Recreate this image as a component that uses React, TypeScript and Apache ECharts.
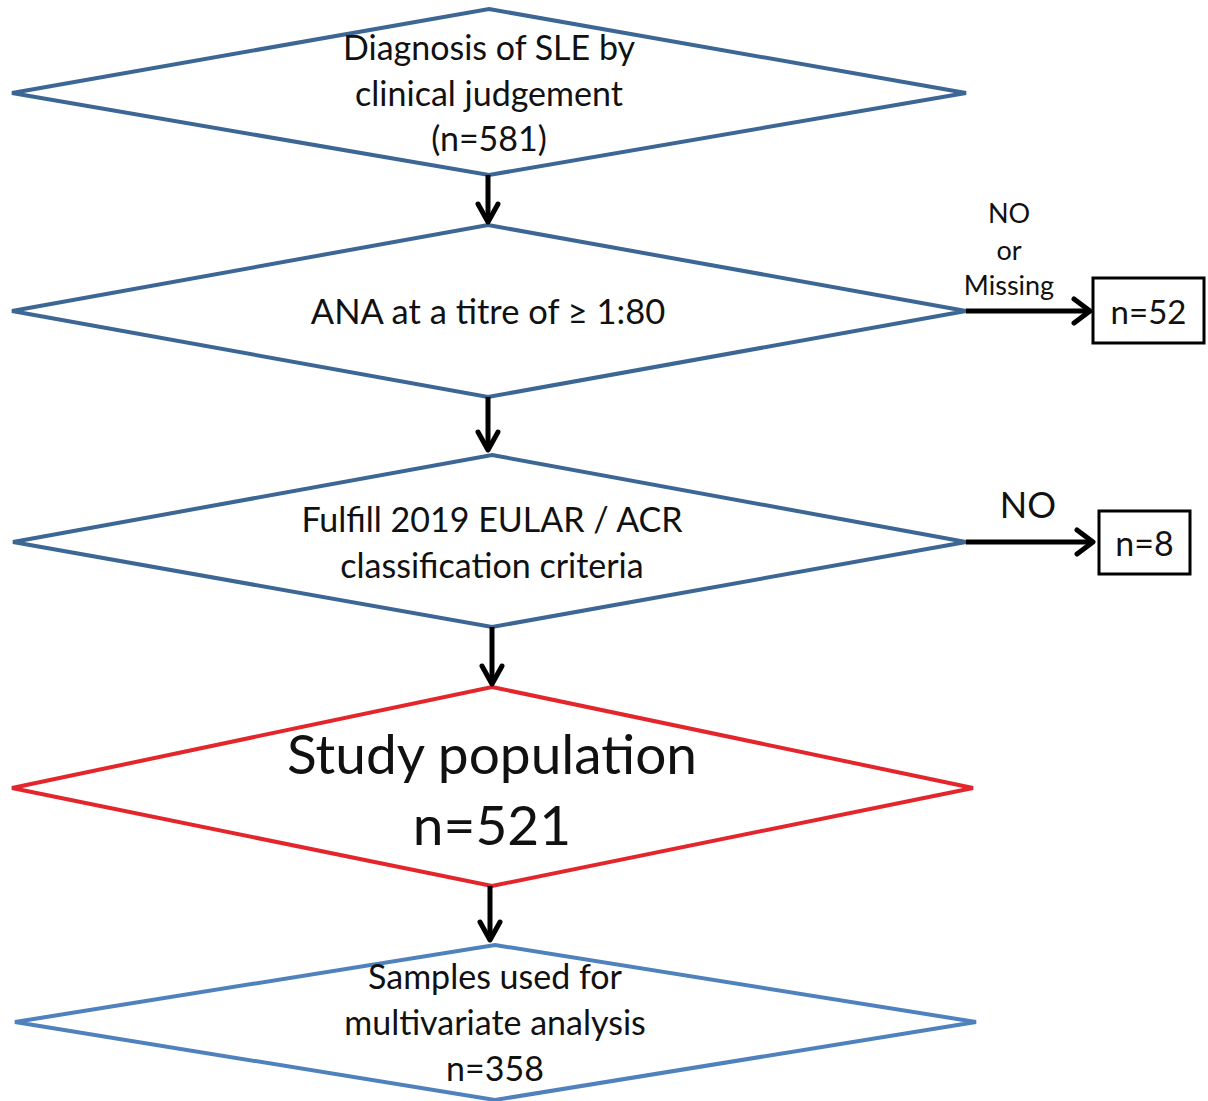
import React, { useEffect, useRef } from "react";
import * as echarts from "echarts";

// ---- content ----
const stepLabels: string[][] = [
  ["Diagnosis of SLE by", "clinical judgement", "(n=581)"],
  ["ANA at a titre of ≥ 1:80"],
  ["Fulfill 2019 EULAR / ACR", "classification criteria"],
  ["Study population", "n=521"],
  ["Samples used for", "multivariate analysis", "n=358"],
];
const excludedCounts = ["n=52", "n=8"];
const exclusionReasons: string[][] = [["NO", "or", "Missing"], ["NO"]];

// ---- layout ----
// diamond: [topX, topY, bottomY, leftX, rightX, midY]
const diamondGeom = [
  [489, 9, 175, 12, 966, 93],
  [488, 225, 397, 12, 966, 311],
  [492, 455, 627, 13, 966, 542],
  [492, 687, 886, 12, 973, 788],
  [495, 945, 1100, 15, 976, 1022],
];
const diamondColors = ["#3c6794", "#3c6794", "#3c6794", "#e3262b", "#4f81bd"];
const textLineY = [
  [46, 92, 137],
  [310],
  [518, 564],
  [753, 824],
  [975, 1021, 1067],
];
const textFont = [34, 34.5, 34, 55, 34];
// vertical arrows: [x, y1, y2]
const downArrows = [
  [488, 175, 225],
  [488, 397, 453],
  [492, 627, 687],
  [490, 886, 943],
];
// side arrows: [y, x1, x2]
const sideArrows = [
  [311, 966, 1093],
  [542, 966, 1096],
];
// boxes: [x, y, w, h]
const boxGeom = [
  [1093, 278, 111, 65],
  [1099, 511, 91, 63],
];
const boxFont = [33, 34];
const reasonPos = [
  { x: 1009, ys: [212, 249, 284], size: 27 },
  { x: 1028, ys: [504], size: 36 },
];

const FONT = "Lato, 'Open Sans', sans-serif";

function buildGraphics() {
  const els: any[] = [];
  diamondGeom.forEach((g, i) => {
    const [tx, ty, by, lx, rx, my] = g;
    els.push({
      type: "polygon",
      shape: { points: [[tx, ty], [rx, my], [tx, by], [lx, my]] },
      style: { fill: "#fff", stroke: diamondColors[i], lineWidth: 4, lineJoin: "miter" },
    });
    stepLabels[i].forEach((t, j) => {
      els.push({
        type: "text",
        x: tx,
        y: textLineY[i][j],
        style: {
          text: t,
          fill: "#111",
          font: `${textFont[i]}px ${FONT}`,
          align: "center",
          verticalAlign: "middle",
        },
      });
    });
  });
  downArrows.forEach(([x, y1, y2]) => {
    els.push({ type: "line", shape: { x1: x, y1, x2: x, y2: y2 - 3 }, style: { stroke: "#000", lineWidth: 5 } });
    els.push({
      type: "polyline",
      shape: { points: [[x - 10, y2 - 21], [x, y2 - 3], [x + 10, y2 - 21]] },
      style: { stroke: "#000", lineWidth: 5, fill: null, lineCap: "round", lineJoin: "round" },
    });
  });
  sideArrows.forEach(([y, x1, x2]) => {
    els.push({ type: "line", shape: { x1, y1: y, x2: x2 - 3, y2: y }, style: { stroke: "#000", lineWidth: 5 } });
    els.push({
      type: "polyline",
      shape: { points: [[x2 - 19, y - 12], [x2 - 3, y], [x2 - 19, y + 12]] },
      style: { stroke: "#000", lineWidth: 5, fill: null, lineCap: "round", lineJoin: "round" },
    });
  });
  boxGeom.forEach(([x, y, w, h], i) => {
    els.push({ type: "rect", shape: { x, y, width: w, height: h }, style: { fill: "#fff", stroke: "#000", lineWidth: 3 } });
    els.push({
      type: "text",
      x: x + w / 2,
      y: y + h / 2,
      style: { text: excludedCounts[i], fill: "#111", font: `${boxFont[i]}px ${FONT}`, align: "center", verticalAlign: "middle" },
    });
  });
  exclusionReasons.forEach((lines, i) => {
    lines.forEach((t, j) => {
      els.push({
        type: "text",
        x: reasonPos[i].x,
        y: reasonPos[i].ys[j],
        style: { text: t, fill: "#111", font: `${reasonPos[i].size}px ${FONT}`, align: "center", verticalAlign: "middle" },
      });
    });
  });
  return els;
}

export default function App() {
  const ref = useRef<HTMLDivElement>(null);
  useEffect(() => {
    document.body.style.margin = "0";
    if (!ref.current) return;
    const chart = echarts.init(ref.current, null, { renderer: "svg" });
    chart.setOption({
      animation: false,
      backgroundColor: "#fff",
      graphic: { elements: buildGraphics() },
    });
    return () => chart.dispose();
  }, []);
  return <div ref={ref} style={{ width: 1208, height: 1101 }} />;
}
